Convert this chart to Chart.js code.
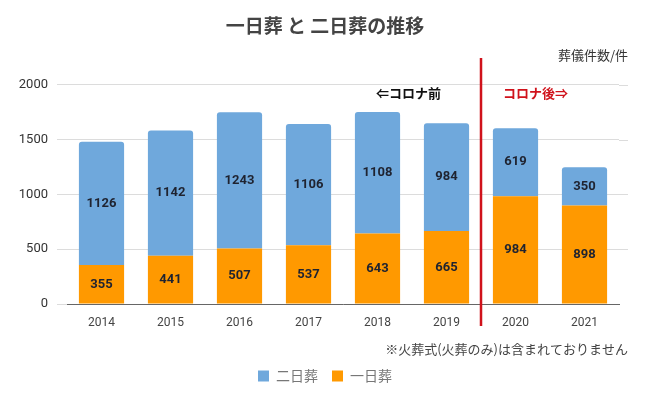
<!DOCTYPE html>
<html>
<head>
<meta charset="utf-8">
<script src="https://cdn.jsdelivr.net/npm/chart.js@4.4.0/dist/chart.umd.min.js"></script>
<style>
  html, body { margin: 0; padding: 0; background: #fff; }
  #wrap { width: 650px; height: 403px; }
</style>
</head>
<body>
<div id="wrap"><canvas id="funeralChart"></canvas></div>
<script>
const years = ["2014", "2015", "2016", "2017", "2018", "2019", "2020", "2021"];
const oneDay = [355, 441, 507, 537, 643, 665, 984, 898];
const twoDay = [1126, 1142, 1243, 1106, 1108, 984, 619, 350];
const yTicks = [0, 500, 1000, 1500, 2000];

const JP = '"Noto Sans CJK JP", "Noto Sans", sans-serif';

// gridlines run a little past the last bar in the original
const gridTail = {
  id: "gridTail",
  beforeDatasetsDraw(chart) {
    const c = chart.ctx;
    const y = chart.scales.y;
    const right = chart.chartArea.right;
    c.save();
    c.strokeStyle = "#dcdcdc";
    c.lineWidth = 1;
    yTicks.slice(1).forEach(v => {
      const py = Math.round(y.getPixelForValue(v)) + 0.5;
      c.beginPath();
      c.moveTo(right, py);
      c.lineTo(628, py);
      c.stroke();
    });
    c.restore();
  }
};

// labels inside each bar segment, plus the corona divider and notes
const extras = {
  id: "extras",
  afterDatasetsDraw(chart) {
    const c = chart.ctx;
    const x = chart.scales.x;

    c.save();
    c.textAlign = "center";
    c.textBaseline = "middle";
    c.fillStyle = "#1f2330";
    c.font = "bold 13px Roboto, " + JP;
    chart.data.datasets.forEach((ds, di) => {
      const meta = chart.getDatasetMeta(di);
      meta.data.forEach((bar, i) => {
        const mid = (bar.y + bar.base) / 2;
        c.fillText(ds.data[i], bar.x, mid);
      });
    });

    // divider between 2019 and 2020
    const lx = (x.getPixelForValue(5) + x.getPixelForValue(6)) / 2;
    c.strokeStyle = "#d0121b";
    c.lineWidth = 2.5;
    c.beginPath();
    c.moveTo(lx, 58);
    c.lineTo(lx, 326);
    c.stroke();

    c.font = "bold 13px " + JP;
    c.textAlign = "right";
    c.fillStyle = "#111";
    c.fillText("⇐コロナ前", lx - 40, 93);
    c.textAlign = "left";
    c.fillStyle = "#d0121b";
    c.fillText("コロナ後⇒", lx + 22, 93);

    c.font = "13px " + JP;
    c.fillStyle = "#333";
    c.textAlign = "right";
    c.fillText("葬儀件数/件", 628, 55);
    c.fillStyle = "#444";
    c.fillText("※火葬式(火葬のみ)は含まれておりません", 628, 349);
    c.restore();
  }
};

new Chart(document.getElementById("funeralChart").getContext("2d"), {
  type: "bar",
  data: {
    labels: years,
    datasets: [
      {
        label: "一日葬",
        data: oneDay,
        backgroundColor: "#ff9900",
        borderRadius: 0,
        barPercentage: 0.655,
        categoryPercentage: 1
      },
      {
        label: "二日葬",
        data: twoDay,
        backgroundColor: "#6fa8dc",
        borderRadius: { topLeft: 3, topRight: 3, bottomLeft: 0, bottomRight: 0 },
        borderSkipped: false,
        barPercentage: 0.655,
        categoryPercentage: 1
      }
    ]
  },
  options: {
    responsive: true,
    maintainAspectRatio: false,
    animation: false,
    layout: { padding: { left: 0, right: 0, top: 0, bottom: 10 } },
    plugins: {
      title: {
        display: true,
        text: "一日葬 と 二日葬の推移",
        color: "#444",
        font: { family: JP, size: 19, weight: "bold" },
        padding: { top: 14, bottom: 48 }
      },
      legend: {
        position: "bottom",
        reverse: true,
        labels: {
          boxWidth: 11,
          boxHeight: 11,
          padding: 14,
          color: "#777",
          font: { family: JP, size: 14 }
        }
      },
      tooltip: { enabled: false }
    },
    scales: {
      x: {
        stacked: true,
        grid: { display: false },
        border: { color: "#666", width: 1 },
        ticks: { color: "#444", font: { family: "Roboto, sans-serif", size: 12 }, padding: 4 },
        afterFit(scale) { scale.height = 51; }
      },
      y: {
        stacked: true,
        min: 0,
        max: 2000,
        afterBuildTicks(scale) { scale.ticks = yTicks.map(v => ({ value: v })); },
        grid: { color: "#dcdcdc", tickLength: 10 },
        border: { display: false },
        ticks: {
          color: "#333",
          font: { family: "Roboto, sans-serif", size: 13 },
          padding: 9,
          callback: v => String(v)
        },
        afterFit(scale) { scale.width = 67; }
      },
      // empty right axis only to reserve the right margin
      yRight: {
        position: "right",
        display: true,
        grid: { display: false },
        border: { display: false },
        ticks: { display: false },
        afterFit(scale) { scale.width = 31; }
      }
    }
  },
  plugins: [gridTail, extras]
});
</script>
</body>
</html>
